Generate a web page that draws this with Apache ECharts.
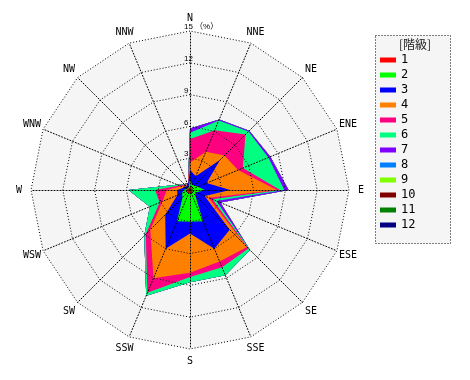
<!DOCTYPE html>
<html><head><meta charset="utf-8">
<script src="https://cdn.jsdelivr.net/npm/echarts@6/dist/echarts.min.js"></script>
<style>html,body{margin:0;padding:0;background:#fff}#c{width:470px;height:380px}</style>
</head><body><div id="c"></div>
<script>
// Directions, clockwise from North
const directions = ['N','NNE','NE','ENE','E','ESE','SE','SSE','S','SSW','SW','WSW','W','WNW','NW','NNW'];
const classNames = ['1','2','3','4','5','6','7','8','9','10','11','12'];
const classColors = ['#ff0000','#00ff00','#0000ff','#ff8000','#ff0080','#00ff80','#8000ff','#0080ff','#80ff00','#800000','#008000','#000080'];
const radialMax = 15;
const radialStep = 3;

// Frequency (%) per class, per direction (N, NNE, ... NNW)
const class1  = [0.3,0.2,0.2,0.2,0.3,0.2,0.3,0.3,0.4,0.3,0.3,0.2,0.4,0.2,0.2,0.2];
const class2  = [0.7,0.3,0.4,0.6,1.1,0.4,0.4,2.9,2.6,2.9,0.7,0.6,0.2,0.1,0.1,0.1];
const class3  = [0.9,0.9,3.4,0.9,2.4,0.9,4.6,2.8,1.1,2.8,2.3,0.5,0.6,0.3,0.2,0.2];
const class4  = [0.7,2.5,0.6,3.2,4.4,0.4,2.3,1.3,3.7,3.0,2.0,1.5,1.0,0.3,0.1,0.0];
const class5  = [2.2,2.2,2.8,0.5,0.3,0.4,0.2,0.6,0.4,1.5,0.6,0.3,1.1,0.2,0.1,0.0];
const class6  = [0.6,1.0,0.4,2.6,0.4,0.4,0.2,0.8,0.5,0.3,0.2,1.0,2.5,0.2,0.0,0.0];
const class7  = [0.4,0.1,0.1,0.2,0.4,0.4,0.0,0.0,0.0,0.0,0.0,0.0,0.0,0.0,0.0,0.0];
const class8  = [0,0,0,0,0,0,0,0,0,0,0,0,0,0,0,0];
const class9  = [0,0,0,0,0,0,0,0,0,0,0,0,0,0,0,0];
const class10 = [0,0,0,0,0,0,0,0,0,0,0,0,0,0,0,0];
const class11 = [0,0,0,0,0,0,0,0,0,0,0,0,0,0,0,0];
const class12 = [0,0,0,0,0,0,0,0,0,0,0,0,0,0,0,0];
const classValues = [class1,class2,class3,class4,class5,class6,class7,class8,class9,class10,class11,class12];

// ECharts radar goes counter-clockwise: reorder so directions appear clockwise
const ccw = [0].concat(directions.map((_, i) => i).slice(1).reverse());
const toRadar = arr => ccw.map(i => arr[i]);

// stacked (cumulative) values
const cumulative = [];
classValues.forEach((vals, k) => {
  cumulative.push(vals.map((v, d) => +(v + (k ? cumulative[k - 1][d] : 0)).toFixed(3)));
});

const indicatorBase = ccw.map(i => ({ name: directions[i], min: 0, max: radialMax }));
const indicatorTop = ccw.map((i, j) => {
  const o = { name: directions[i], min: 0, max: radialMax };
  if (j === 0) {
    o.axisLabel = {
      show: true, color: '#000', fontSize: 8, fontFamily: 'Liberation Sans, "Noto Sans CJK JP"',
      margin: 6, align: 'left', verticalAlign: 'bottom',
      formatter: v => (v === radialMax ? v + ' （%）' : String(v))
    };
  }
  return o;
});

const series = [];
for (let k = classNames.length - 1; k >= 0; k--) {
  series.push({
    type: 'radar', radarIndex: 0, name: classNames[k], symbol: 'none', silent: true,
    color: classColors[k],
    itemStyle: { color: classColors[k], borderColor: classColors[k], borderWidth: 0 },
    lineStyle: { width: 0, color: classColors[k] },
    areaStyle: { color: classColors[k], opacity: 1 },
    data: [{
      name: classNames[k], value: toRadar(cumulative[k]),
      itemStyle: { color: classColors[k], borderColor: classColors[k], borderWidth: 0 },
      lineStyle: { width: 0, color: classColors[k] },
      areaStyle: { color: classColors[k], opacity: 1 }
    }]
  });
}

const chart = echarts.init(document.getElementById('c'), null, { renderer: 'canvas' });
chart.setOption({
  animation: false,
  backgroundColor: '#fff',
  color: classColors,
  radar: [{
    center: [190, 190], radius: 159, startAngle: 90, shape: 'polygon',
    splitNumber: radialMax / radialStep, indicator: indicatorBase, z: 0,
    axisName: { show: false },
    splitArea: { show: true, areaStyle: { color: ['#f5f5f5'] } },
    splitLine: { show: false }, axisLine: { show: false }, axisTick: { show: false }, axisLabel: { show: false }
  }, {
    center: [190, 190], radius: 159, startAngle: 90, shape: 'polygon',
    splitNumber: radialMax / radialStep, indicator: indicatorTop, z: 10,
    nameGap: 12,
    axisName: { show: true, color: '#000', fontSize: 10, fontFamily: 'DejaVu Sans Mono', align: 'center', verticalAlign: 'middle' },
    splitArea: { show: false },
    splitLine: { show: true, lineStyle: { color: '#000', width: 1, type: [1, 2] } },
    axisLine: { show: true, lineStyle: { color: '#000', width: 1, type: [1, 2] } },
    axisTick: { show: false },
    axisLabel: { show: false }
  }],
  legend: {
    data: classNames.map((n, k) => ({
      name: n,
      itemStyle: { color: classColors[k], opacity: 1, borderColor: classColors[k], borderWidth: 0 },
      lineStyle: { width: 0, color: classColors[k] }
    })),
    orient: 'vertical', left: 375, top: 35, z: 5,
    padding: [19, 36, 13, 5], itemWidth: 16, itemHeight: 5, itemGap: 3, itemTextGap: 3,
    icon: 'rect', selectedMode: false,
    itemStyle: { borderWidth: 0 },
    textStyle: { fontSize: 12, lineHeight: 12, fontFamily: 'DejaVu Sans Mono', color: '#000' }
  },
  graphic: [{
    type: 'rect', left: 375, top: 35, z: 1,
    shape: { width: 75, height: 208 },
    style: { fill: '#f5f5f5', stroke: '#000', lineWidth: 1, lineDash: [1, 2] }
  }, {
    type: 'text', x: 415, y: 44, z: 6,
    style: { text: '[階級]', fill: '#222', font: '12px "Noto Sans CJK JP"', align: 'center', verticalAlign: 'middle' }
  }],
  series: series
});
</script></body></html>
